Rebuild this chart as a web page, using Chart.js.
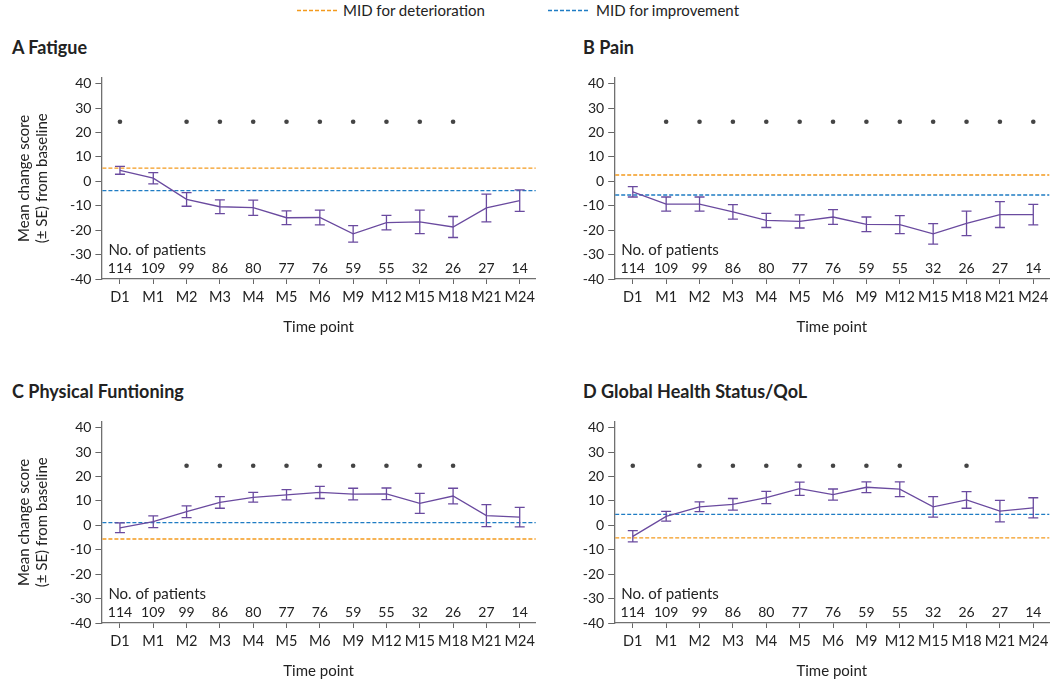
<!DOCTYPE html>
<html>
<head>
<meta charset="utf-8">
<script src="https://cdn.jsdelivr.net/npm/chart.js@4.4.1/dist/chart.umd.min.js"></script>
<style>
  body { margin: 0; background: #fff; font-family: Lato, sans-serif; color: #222; }
  #wrap { position: relative; width: 1057px; height: 686px; overflow: hidden; }
  canvas { position: absolute; }
  .ptitle { position: absolute; font-weight: bold; font-size: 18px; line-height: 22px; white-space: nowrap; }
  .leg { position: absolute; top: 0; font-size: 15px; line-height: 20px; white-space: nowrap; }
  .leg svg { position: absolute; top: 9px; }
</style>
</head>
<body>
<div id="wrap">
  <div class="leg" style="left:297px;"><svg width="40" height="3" style="left:0"><line x1="0" y1="1.5" x2="40" y2="1.5" stroke="#f39a1e" stroke-width="1.3" stroke-dasharray="4 2"/></svg><span style="position:absolute;left:46px;">MID for deterioration</span></div>
  <div class="leg" style="left:548px;"><svg width="40" height="3" style="left:0"><line x1="0" y1="1.5" x2="40" y2="1.5" stroke="#1f7cc4" stroke-width="1.3" stroke-dasharray="4 2"/></svg><span style="position:absolute;left:48px;">MID for improvement</span></div>

  <div class="ptitle" style="left:12px;top:36px;">A Fatigue</div>
  <div class="ptitle" style="left:583px;top:36px;">B Pain</div>
  <div class="ptitle" style="left:12px;top:380px;">C Physical Funtioning</div>
  <div class="ptitle" style="left:583px;top:380px;">D Global Health Status/QoL</div>

  <canvas id="chartA" width="540" height="290" style="left:0;top:60px;"></canvas>
  <canvas id="chartB" width="530" height="290" style="left:527px;top:60px;"></canvas>
  <canvas id="chartC" width="540" height="290" style="left:0;top:404px;"></canvas>
  <canvas id="chartD" width="530" height="290" style="left:527px;top:404px;"></canvas>
</div>
<script>
// time points and patient numbers (same for all four panels)
var timePoints = ['D1', 'M1', 'M2', 'M3', 'M4', 'M5', 'M6', 'M9', 'M12', 'M15', 'M18', 'M21', 'M24'];
var patients = [114, 109, 99, 86, 80, 77, 76, 59, 55, 32, 26, 27, 14];
var yTicks = [-40, -30, -20, -10, 0, 10, 20, 30, 40];

// mean change from baseline and SE
var fatigueMean = [4.5, 1.3, -7.4, -10.4, -10.8, -14.9, -14.8, -21.5, -16.9, -16.6, -18.7, -10.9, -7.9];
var fatigueSE   = [1.6, 2.3, 2.8, 2.8, 3.1, 2.8, 3.0, 3.4, 3.0, 4.8, 4.3, 5.7, 4.4];
var painMean    = [-4.3, -9.3, -9.3, -12.5, -16.0, -16.4, -14.6, -17.6, -17.7, -21.5, -17.2, -13.6, -13.6];
var painSE      = [2.1, 2.9, 2.9, 3.0, 2.9, 2.7, 3.0, 3.0, 3.7, 4.2, 5.0, 5.3, 4.2];
var physMean    = [-1.0, 1.5, 5.6, 9.4, 11.5, 12.5, 13.5, 12.8, 12.9, 9.0, 12.0, 4.0, 3.4];
var physSE      = [2.0, 2.4, 2.4, 2.4, 2.0, 2.1, 2.5, 2.4, 2.4, 4.1, 3.2, 4.5, 4.0];
var ghsMean     = [-4.5, 3.7, 7.6, 8.6, 11.4, 15.0, 12.6, 15.6, 14.8, 7.6, 10.4, 5.8, 7.2];
var ghsSE       = [2.3, 2.0, 2.0, 2.4, 2.5, 2.7, 2.3, 2.2, 3.0, 4.2, 3.4, 4.4, 4.1];

// significant time points (dot shown)
var fatigueSig = [1, 0, 1, 1, 1, 1, 1, 1, 1, 1, 1, 0, 0];
var painSig    = [0, 1, 1, 1, 1, 1, 1, 1, 1, 1, 1, 1, 1];
var physSig    = [0, 0, 1, 1, 1, 1, 1, 1, 1, 1, 1, 0, 0];
var ghsSig     = [1, 0, 1, 1, 1, 1, 1, 1, 1, 0, 1, 0, 0];

// minimal important differences
var fatigueMID = { deterioration: 5.4, improvement: -3.8 };
var painMID    = { deterioration: 2.6, improvement: -5.6 };
var physMID    = { deterioration: -5.6, improvement: 1.1 };
var ghsMID     = { deterioration: -5.1, improvement: 4.5 };

var sigLevel = 24.4;
var fontFamily = 'Lato, "Noto Sans", sans-serif';
var purple = '#6a4a9f';
var orange = '#f39a1e';
var blue = '#1f7cc4';

var extrasPlugin = {
  id: 'extras',
  beforeDatasetsDraw: function (chart, args, opts) {
    var ctx = chart.ctx, y = chart.scales.y, area = chart.chartArea;
    ctx.save();
    ctx.lineWidth = 1.3;
    ctx.setLineDash([4, 2]);
    [[opts.mid.deterioration, orange], [opts.mid.improvement, blue]].forEach(function (m) {
      var py = y.getPixelForValue(m[0]);
      ctx.strokeStyle = m[1];
      ctx.beginPath();
      ctx.moveTo(area.left + 1, py);
      ctx.lineTo(area.right, py);
      ctx.stroke();
    });
    ctx.restore();
  },
  afterDatasetsDraw: function (chart, args, opts) {
    var ctx = chart.ctx, x = chart.scales.x, y = chart.scales.y;
    ctx.save();
    ctx.strokeStyle = purple;
    ctx.lineWidth = 1.3;
    opts.mean.forEach(function (m, i) {
      var px = x.getPixelForValue(i);
      var top = y.getPixelForValue(m + opts.se[i]);
      var bot = y.getPixelForValue(m - opts.se[i]);
      ctx.beginPath();
      ctx.moveTo(px, top); ctx.lineTo(px, bot);
      ctx.moveTo(px - 5, top); ctx.lineTo(px + 5, top);
      ctx.moveTo(px - 5, bot); ctx.lineTo(px + 5, bot);
      ctx.stroke();
    });
    // patient numbers
    ctx.fillStyle = '#222';
    ctx.textBaseline = 'middle';
    ctx.font = '15px ' + fontFamily;
    ctx.textAlign = 'left';
    ctx.fillText('No. of patients', chart.chartArea.left + 7, y.getPixelForValue(-28.1));
    ctx.font = '14px ' + fontFamily;
    ctx.textAlign = 'center';
    patients.forEach(function (n, i) {
      ctx.fillText(String(n), x.getPixelForValue(i), y.getPixelForValue(-35.8));
    });
    ctx.restore();
  }
};

function makePanel(id, mean, se, sig, mid, yWidth, rightPad, showYTitle) {
  var linePts = mean.map(function (v, i) { return { x: i, y: v }; });
  var sigPts = [];
  sig.forEach(function (s, i) { if (s) sigPts.push({ x: i, y: sigLevel }); });

  return new Chart(document.getElementById(id), {
    type: 'line',
    data: {
      datasets: [{
        data: linePts,
        borderColor: purple,
        borderWidth: 1.3,
        pointRadius: 0,
        tension: 0
      }, {
        data: sigPts,
        showLine: false,
        pointRadius: 2.3,
        pointBackgroundColor: '#444',
        pointBorderWidth: 0
      }]
    },
    options: {
      responsive: false,
      animation: false,
      layout: { padding: { left: 0, top: 17.6, right: rightPad, bottom: 0 } },
      plugins: {
        legend: { display: false },
        tooltip: { enabled: false },
        extras: { mean: mean, se: se, mid: mid }
      },
      scales: {
        x: {
          type: 'linear',
          min: -0.557,
          max: 12.48,
          afterBuildTicks: function (scale) {
            scale.ticks = timePoints.map(function (t, i) { return { value: i }; });
          },
          afterFit: function (scale) { scale.height = 71; },
          grid: { display: true, drawOnChartArea: false, drawTicks: true, tickLength: 5, color: '#666' },
          border: { display: true, color: '#707070', width: 1.3 },
          ticks: {
            padding: 5,
            color: '#222',
            font: { family: fontFamily, size: 14.5 },
            maxRotation: 0,
            autoSkip: false,
            callback: function (v) { return timePoints[v]; }
          },
          title: {
            display: true,
            text: 'Time point',
            color: '#222',
            font: { family: fontFamily, size: 15 },
            padding: { top: 0, bottom: 14 }
          }
        },
        y: {
          min: -40,
          max: 42.5,
          afterBuildTicks: function (scale) {
            scale.ticks = yTicks.map(function (v) { return { value: v }; });
          },
          afterFit: function (scale) { scale.width = yWidth; },
          grid: { display: true, drawOnChartArea: false, drawTicks: true, tickLength: 6, color: '#666' },
          border: { display: true, color: '#707070', width: 1.3 },
          ticks: {
            padding: 4,
            color: '#222',
            font: { family: fontFamily, size: 14 }
          },
          title: {
            display: showYTitle,
            text: ['Mean change score', '(\u00b1 SE) from baseline'],
            color: '#222',
            font: { family: fontFamily, size: 15 },
            padding: { top: 15, bottom: 0 }
          }
        }
      }
    },
    plugins: [extrasPlugin]
  });
}

makePanel('chartA', fatigueMean, fatigueSE, fatigueSig, fatigueMID, 101.4, 3.3, true);
makePanel('chartB', painMean, painSE, painSig, painMID, 87.2, 7.7, false);
makePanel('chartC', physMean, physSE, physSig, physMID, 101.4, 3.3, true);
makePanel('chartD', ghsMean, ghsSE, ghsSig, ghsMID, 87.2, 7.7, false);
</script>
</body>
</html>
